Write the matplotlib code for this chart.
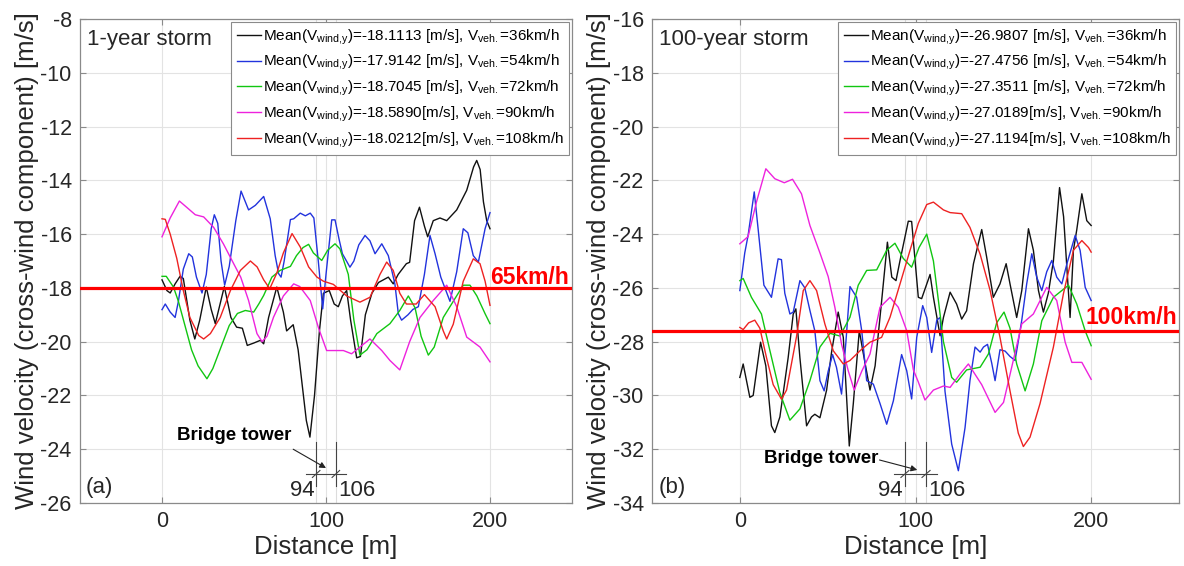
import matplotlib
matplotlib.use("Agg")
import matplotlib.pyplot as plt

plt.rcParams['font.family'] = ['Liberation Sans', 'DejaVu Sans']
plt.rcParams['mathtext.fontset'] = 'custom'
plt.rcParams['mathtext.rm'] = 'Liberation Sans'
plt.rcParams['mathtext.it'] = 'Liberation Sans:italic'
plt.rcParams['mathtext.default'] = 'regular'
plt.rcParams['axes.unicode_minus'] = False

# ---- 1-year storm (a) ----
a_black_x = [0, 3, 5, 8, 11, 13, 17, 20, 23, 27, 30, 32.5, 38, 42, 45.5, 49, 52, 56, 60, 62, 65, 70,
             74, 76, 80, 83, 88, 90.2, 93, 96, 98.4, 102, 105, 107.5, 110, 112.6, 115, 118.7, 121, 124,
             128, 132, 135, 138, 141, 144, 149, 151, 154, 157, 160, 162, 165.4, 169.5, 173.6, 179.7,
             185.8, 190, 191.9, 194, 196, 198, 200]
a_black_y = [-17.70, -18.10, -18.19, -17.85, -17.57, -17.65, -19.2, -19.9, -19.2, -17.97, -18.8, -19.33,
             -17.95, -19.1, -19.46, -19.5, -20.14, -20.05, -19.95, -20.08, -19.1, -17.97, -18.9, -19.6,
             -19.37, -20.3, -22.93, -23.55, -22.0, -19.6, -18.2, -18.1, -18.6, -18.7, -18.3, -18.1,
             -19.2, -20.6, -20.55, -19.0, -18.2, -17.8, -17.7, -17.6, -17.85, -17.5, -17.1, -17.05,
             -15.5, -15.0, -15.7, -16.1, -15.5, -15.4, -15.5, -15.1, -14.37, -13.5, -13.26, -13.6,
             -14.8, -15.5, -15.8]

a_blue_x = [0, 2, 5, 8, 10, 13, 16.3, 18.5, 21, 24.4, 27, 30, 31.9, 34, 36, 38.2, 41, 45, 48.2, 52.8,
            56.9, 62, 66, 69, 71.1, 72.6, 74.5, 78.3, 80.3, 84.3, 87.4, 90.4, 92.6, 95.3, 98, 100,
            103.5, 105.5, 108, 110, 114.6, 117, 120, 123.8, 126.8, 129.9, 134, 138, 142, 144.1, 146.1,
            150, 153, 156.3, 160, 163.4, 166.5, 170, 175.6, 179.7, 183.7, 186.5, 189.8, 192.9, 197, 200]
a_blue_y = [-18.81, -18.6, -18.9, -19.1, -18.5, -17.3, -16.73, -16.85, -17.6, -18.19, -17.5, -15.8,
            -15.28, -15.6, -17.0, -17.9, -17.2, -15.5, -14.4, -15.1, -14.93, -14.6, -15.43, -16.8,
            -17.47, -17.6, -17.0, -15.46, -15.43, -15.22, -15.32, -15.22, -15.4, -17.0, -18.78, -17.5,
            -15.47, -15.47, -16.2, -16.73, -17.23, -17.0, -16.4, -16.05, -16.25, -16.73, -16.36, -16.8,
            -17.85, -18.96, -19.2, -19.0, -18.8, -18.7, -17.5, -16.05, -16.73, -17.6, -18.5, -17.4,
            -15.8, -15.95, -16.8, -17.04, -15.8, -15.2]

a_green_x = [0, 2.6, 7, 10, 14, 18, 22, 27.4, 31, 36, 41, 46, 50.8, 55.9, 59, 62, 67, 72, 78.3, 82, 86,
             89.4, 92.3, 97.4, 101, 105.5, 108.5, 113.6, 117, 120.7, 125, 131, 139, 145, 150.2, 154.3,
             158, 162.4, 166, 171.5, 177.6, 183.7, 187.8, 192, 197, 200]
a_green_y = [-17.57, -17.57, -17.97, -18.5, -19.4, -20.3, -20.9, -21.38, -21.0, -20.2, -19.4, -18.95,
             -18.84, -18.9, -18.6, -18.28, -17.6, -17.35, -17.2, -16.8, -16.5, -16.38, -16.7, -16.98,
             -16.6, -16.36, -16.55, -17.5, -19.2, -20.5, -20.3, -19.7, -19.33, -18.84, -18.3, -18.74,
             -19.8, -20.5, -20.2, -19.1, -18.5, -17.9, -17.9, -18.3, -18.96, -19.33]

a_magenta_x = [0, 5, 10.6, 15, 20.3, 25.4, 31.5, 37.5, 43.7, 48, 52.8, 57.9, 61, 64, 68, 74, 80.3, 84,
               90.4, 95.5, 100.4, 110.6, 115.6, 120.7, 126.8, 134, 139, 145, 151, 157.3, 165.4, 173.6,
               179.7, 185.8, 193.9, 200]
a_magenta_y = [-16.1, -15.4, -14.77, -15.0, -15.28, -15.36, -15.75, -16.37, -17.1, -17.6, -18.47, -19.7,
               -20.0, -19.8, -19.09, -18.3, -17.85, -17.95, -18.47, -19.5, -20.33, -20.33, -20.45, -20.2,
               -19.9, -20.33, -20.7, -21.05, -20.0, -19.1, -18.47, -17.9, -18.7, -19.83, -20.2, -20.75]

a_red_x = [0, 2, 5, 9, 13, 17, 22.4, 25.4, 29.5, 35.5, 41.7, 47.8, 53.9, 58, 62, 65.7, 70, 74, 79.3,
           84.3, 89.4, 94.5, 98.4, 104.5, 112.6, 120.7, 126.8, 132.9, 137, 141, 145, 149, 155, 160,
           166.5, 171.5, 173.6, 177.6, 183.7, 189.8, 193.9, 197, 200]
a_red_y = [-15.43, -15.45, -16.0, -16.9, -18.1, -19.1, -19.77, -19.9, -19.7, -19.1, -18.1, -17.35, -17.0,
           -17.22, -17.7, -18.03, -17.45, -16.7, -15.98, -16.48, -17.22, -17.6, -17.75, -17.87, -18.3,
           -18.53, -18.35, -17.5, -17.04, -17.35, -18.2, -18.6, -18.6, -18.25, -18.7, -19.6, -19.9,
           -19.35, -17.75, -16.92, -17.1, -17.75, -18.65]

# ---- 100-year storm (b) ----
b_black_x = [0, 1.9, 5.7, 7.6, 11.8, 14.8, 18, 19.9, 22.8, 27.5, 30.4, 31.9, 34.2, 38, 40.8, 42.7, 45.6,
             49.4, 52.2, 56, 58.9, 62.3, 64.6, 68, 69.9, 74.1, 77, 80.7, 84, 86.5, 88.9, 91.2, 95.9,
             97.8, 101.6, 103.5, 108.3, 110.2, 114, 115.9, 119.7, 123.4, 126.3, 129.1, 133, 137.7,
             140.5, 144.3, 148.1, 151.6, 153.8, 157.6, 160.5, 164.3, 167.1, 170, 172.8, 175.6, 178.5,
             182, 184.3, 188, 189.9, 191.8, 194.7, 197.5, 200]
b_black_y = [-29.33, -28.83, -30.07, -30.0, -28.02, -28.9, -31.13, -31.38, -30.8, -28.6, -26.97, -26.78,
             -28.6, -31.13, -30.8, -30.7, -30.83, -29.8, -28.4, -26.9, -27.84, -31.88, -30.3, -27.59,
             -28.3, -29.8, -28.9, -26.5, -24.3, -25.6, -25.73, -24.98, -23.52, -23.53, -26.35, -26.4,
             -25.5, -26.35, -27.78, -27.1, -26.16, -26.6, -27.16, -26.85, -25.1, -23.83, -24.85, -26.35,
             -25.85, -25.1, -25.85, -27.1, -26.1, -23.8, -24.6, -26.1, -26.9, -26.2, -25.0, -22.27,
             -23.35, -27.1, -24.6, -23.84, -22.5, -23.5, -23.68]

b_blue_x = [0, 2.8, 4.7, 8.2, 10.4, 13.7, 18, 21.8, 23.7, 25.6, 28.5, 30.4, 34.2, 37, 39.9, 42.7, 45.6,
            48, 50.3, 52.8, 55, 57.9, 60.4, 62.7, 66.5, 69.4, 72.2, 76, 79.8, 83.6, 87.4, 92.1, 95,
            97.8, 100.7, 104.1, 106.4, 109.2, 112.1, 114, 116.8, 120.6, 124.4, 128.2, 131, 133.9,
            136.8, 138.7, 141, 143.4, 145.3, 148.1, 151, 153.8, 156.7, 160.5, 163.3, 166.2, 169,
            171.9, 174.7, 177.6, 180.4, 183.3, 186.2, 190.9, 193.7, 196.6, 200]
b_blue_y = [-26.1, -24.7, -24.05, -22.43, -23.8, -25.9, -26.35, -24.92, -24.95, -26.2, -26.97, -26.9,
            -25.73, -26.0, -26.84, -27.6, -29.45, -29.83, -29.1, -28.48, -28.95, -29.95, -28.0, -25.95,
            -26.35, -27.6, -29.45, -29.58, -30.3, -31.07, -30.2, -28.48, -29.08, -30.13, -27.84, -26.66,
            -27.1, -28.4, -27.2, -27.1, -29.85, -31.81, -32.8, -31.2, -29.45, -28.2, -28.39, -28.2,
            -28.1, -28.8, -29.45, -28.3, -28.35, -28.55, -28.7, -27.2, -25.85, -24.73, -25.6, -26.1,
            -25.4, -24.98, -25.6, -25.85, -25.1, -24.05, -24.6, -25.98, -26.47]

b_green_x = [0, 1.9, 6.6, 12.3, 17, 22.8, 28.5, 34.2, 39.9, 45.6, 51.3, 57, 62.7, 67.4, 72.2, 77.9, 83.6,
             88.3, 93, 97.8, 102, 106.4, 110.2, 113.1, 115.9, 120.6, 123.4, 129.1, 136.8, 141.5, 146.2,
             150.4, 153.8, 157.6, 162.4, 167.1, 171.9, 178.5, 187.1, 191.8, 196.6, 200]
b_green_y = [-25.73, -25.65, -26.35, -26.97, -28.3, -29.9, -30.92, -30.5, -29.45, -28.2, -27.69, -27.79,
             -27.09, -25.9, -25.35, -25.33, -24.6, -24.34, -24.9, -25.23, -24.5, -24.0, -25.0, -26.5,
             -28.0, -29.33, -29.51, -29.05, -28.95, -28.46, -27.3, -26.9, -27.5, -28.83, -29.83, -28.83,
             -27.22, -26.35, -25.9, -26.6, -27.6, -28.15]

b_magenta_x = [0, 4.7, 9.5, 14.8, 19.9, 25.3, 30, 35.1, 39.9, 45.6, 50.3, 54.1, 57.9, 61.7, 65.1, 69.4,
               74.1, 79.8, 85.5, 90.2, 95, 98.8, 101.6, 105.4, 110.2, 115.9, 119.7, 125.4, 130.1, 137.7,
               145.3, 150.1, 155.3, 160.5, 167.1, 174.7, 180.4, 185.2, 189, 194.7, 200]
b_magenta_y = [-24.36, -24.09, -22.8, -21.57, -21.94, -22.09, -21.96, -22.5, -23.68, -24.7, -25.58,
               -26.72, -28.09, -29.08, -29.8, -29.1, -28.46, -26.72, -26.35, -26.72, -27.59, -29.05,
               -29.5, -30.17, -29.8, -29.65, -29.7, -29.2, -28.83, -29.6, -30.63, -30.26, -28.8, -27.34,
               -26.97, -25.98, -26.47, -28.02, -28.77, -28.77, -29.4]

b_red_x = [0, 1.9, 5, 8.5, 11.4, 15.2, 19, 23.7, 26.6, 32.3, 36.1, 39.9, 43.7, 48.4, 53.2, 58.9, 62.7,
           68.4, 74.1, 80.7, 85.5, 91.2, 96.9, 101.6, 106.4, 110.2, 115.9, 119.7, 126.3, 131, 136.8,
           142.5, 148.1, 153.8, 158.5, 161.4, 165.2, 170.9, 178.5, 184.2, 189.9, 194.7, 198.5, 200]
b_red_y = [-27.47, -27.55, -27.3, -27.2, -27.5, -28.6, -29.6, -30.14, -29.8, -27.8, -26.1, -25.73, -26.1,
           -27.34, -28.34, -28.83, -28.7, -28.34, -28.02, -27.84, -27.09, -25.85, -24.6, -23.6, -22.9,
           -22.81, -23.1, -23.2, -23.24, -23.75, -24.75, -26.1, -27.84, -29.83, -31.4, -31.9, -31.55,
           -30.3, -28.2, -26.22, -24.6, -24.24, -24.5, -24.67]

a_means = ['-18.1113 ', '-17.9142 ', '-18.7045 ', '-18.5890', '-18.0212']
b_means = ['-26.9807 ', '-27.4756 ', '-27.3511 ', '-27.0189', '-27.1194']
speeds = [36, 54, 72, 90, 108]
colors = ['#111111', '#2233dd', '#11c611', '#ee22dd', '#ee2222']

a_limit, b_limit = -18.0, -27.6
a_limit_label, b_limit_label = '65km/h', '100km/h'
tower = (94, 106)

fig = plt.figure(figsize=(11.84, 5.66), dpi=100)
ax_a = fig.add_axes([80 / 1184, 63 / 566, 492 / 1184, 484 / 566])
ax_b = fig.add_axes([652 / 1184, 63 / 566, 527 / 1184, 484 / 566])


def draw_panel(ax, series, means, ylim, limit, limit_label, label_x, label_y, title, tag,
               tower_y, arrow_from, arrow_to, text_pos):
    ax.set_xlim(-50, 250)
    ax.set_ylim(*ylim)
    ax.set_xticks([0, 100, 200])
    ax.set_yticks(range(ylim[0], ylim[1] + 1, 2))
    ax.grid(True, color='#e3e3e3', linewidth=0.8)
    ax.set_axisbelow(True)
    for x in tower:
        ax.axvline(x, color='#dcdcdc', linewidth=0.8, zorder=0)
    for spine in ax.spines.values():
        spine.set_color('#8a8a8a')
        spine.set_linewidth(0.9)
    ax.tick_params(direction='in', length=4, width=0.8, color='#8a8a8a', labelsize=15.5,
                   labelcolor='#262626', right=True, top=True, pad=6)

    for (xs, ys), c, m, v in zip(series, colors, means, speeds):
        ax.plot(xs, ys, color=c, linewidth=1.0,
                label=r'Mean(V$_{wind{,}y}$)=' + m + r'[m/s], V$_{veh.}$=' + f'{v}km/h')

    ax.axhline(limit, color='#ff0000', linewidth=2.3, zorder=3)
    ax.text(label_x, label_y, limit_label, color='#ff0000', fontsize=16.5, fontweight='bold',
            ha='left', va='baseline')

    ax.text(0.014, 0.958, title, transform=ax.transAxes, fontsize=16, va='center', ha='left',
            color='#262626')
    ax.text(0.012, 0.033, tag, transform=ax.transAxes, fontsize=16, va='center', ha='left',
            color='#262626')

    # bridge tower dimension marks
    ax.text(*text_pos, 'Bridge tower', fontsize=13.5, fontweight='bold', ha='right', va='center')
    ax.annotate('', xy=arrow_to, xytext=arrow_from,
                arrowprops=dict(arrowstyle='-|>', color='#222222', lw=0.8,
                                mutation_scale=9, shrinkA=0, shrinkB=0))
    ax.plot([88, 112], [tower_y, tower_y], color='#444444', linewidth=0.8)
    for x in tower:
        ax.plot([x, x], [tower_y + 1.2, tower_y - 0.45], color='#444444', linewidth=0.8)
        ax.plot([x - 2.3, x + 2.3], [tower_y - 0.13, tower_y + 0.13], color='#444444', linewidth=0.8)
    ax.text(tower[0] - 1.2, tower_y - 0.6, str(tower[0]), fontsize=16, ha='right', va='center',
            color='#262626')
    ax.text(tower[1] + 1.2, tower_y - 0.6, str(tower[1]), fontsize=16, ha='left', va='center',
            color='#262626')

    leg = ax.legend(loc='upper right', fontsize=11, handlelength=1.6, handletextpad=0.1,
                    borderpad=0.35, labelspacing=0.42, borderaxespad=0.2, fancybox=False,
                    framealpha=1, edgecolor='#8a8a8a')
    leg.get_frame().set_linewidth(0.8)
    ax.set_xlabel('Distance [m]', fontsize=18.5, color='#262626', labelpad=2)
    ax.set_ylabel('Wind velocity (cross-wind component) [m/s]', fontsize=18.5, color='#262626',
                  labelpad=1)


draw_panel(ax_a,
           [(a_black_x, a_black_y), (a_blue_x, a_blue_y), (a_green_x, a_green_y),
            (a_magenta_x, a_magenta_y), (a_red_x, a_red_y)],
           a_means, (-26, -8), a_limit, a_limit_label, 200, -17.84, '1-year storm', '(a)',
           -24.92, (80, -24.0), (100, -24.7), (79, -23.5))
draw_panel(ax_b,
           [(b_black_x, b_black_y), (b_blue_x, b_blue_y), (b_green_x, b_green_y),
            (b_magenta_x, b_magenta_y), (b_red_x, b_red_y)],
           b_means, (-34, -16), b_limit, b_limit_label, 196.6, -27.33, '100-year storm', '(b)',
           -32.92, (79.5, -32.4), (101, -32.77), (78.6, -32.36))

fig.savefig('out.png', dpi=100)
